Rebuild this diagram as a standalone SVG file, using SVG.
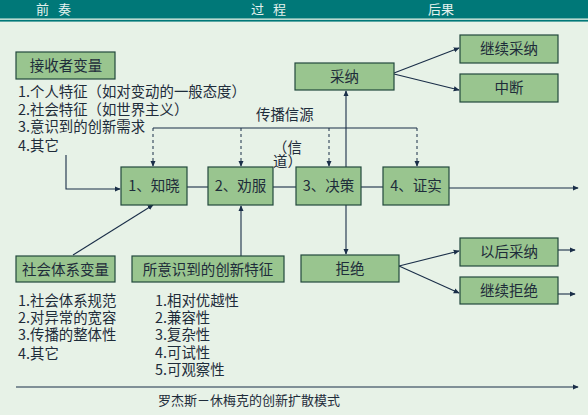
<svg xmlns="http://www.w3.org/2000/svg" width="588" height="415" viewBox="0 0 588 415">
<defs>
<marker id="ah" viewBox="0 0 8 8" refX="7" refY="4" markerWidth="6" markerHeight="6" orient="auto" markerUnits="userSpaceOnUse">
<path d="M0,0.5 L8,4 L0,7.5 z" fill="#1a2e48"/>
</marker>
<style>
.bx{fill:#99c58f;stroke:#22483c;stroke-width:1.2}
.bt{font-family:"Noto Sans CJK SC","Noto Sans",sans-serif;font-size:14.5px;fill:#1e2c3a;text-anchor:middle}
.tx{font-family:"Noto Sans CJK SC","Noto Sans",sans-serif;font-size:14.4px;fill:#1e2c3a}
.hd{font-family:"Noto Sans CJK SC","Noto Sans",sans-serif;font-size:13px;fill:#e4f2ee}
.ln{stroke:#1a2e48;stroke-width:1.1;fill:none}
.ds{stroke:#1a2e48;stroke-width:1;fill:none;stroke-dasharray:3,3}
</style>
</defs>
<rect x="0" y="0" width="588" height="415" fill="#e7f2e7"/>
<g id="header">
<rect x="0" y="0" width="588" height="18.5" fill="#007878"/>
<rect x="0" y="19.8" width="588" height="1.8" fill="#007878"/>
<text class="hd" x="36" y="14">前</text>
<text class="hd" x="58" y="14">奏</text>
<text class="hd" x="251" y="14">过</text>
<text class="hd" x="273" y="14">程</text>
<text class="hd" x="428" y="14">后果</text>
</g>
<g id="connectors">
<polyline class="ln" points="66,155 66,189 120,189" marker-end="url(#ah)"/>
<line class="ln" x1="187" y1="187" x2="208" y2="187"/>
<line class="ln" x1="273" y1="187" x2="296" y2="187"/>
<line class="ln" x1="361" y1="187" x2="383" y2="187"/>
<line class="ln" x1="449" y1="188" x2="578" y2="188" marker-end="url(#ah)"/>
<line class="ln" x1="153" y1="128" x2="417" y2="128"/>
<line class="ds" x1="153" y1="128" x2="153" y2="166" marker-end="url(#ah)"/>
<line class="ds" x1="241" y1="128" x2="241" y2="166" marker-end="url(#ah)"/>
<line class="ds" x1="329" y1="128" x2="329" y2="166" marker-end="url(#ah)"/>
<line class="ds" x1="417" y1="128" x2="417" y2="166" marker-end="url(#ah)"/>
<line class="ln" x1="346" y1="167" x2="346" y2="91" marker-end="url(#ah)"/>
<line class="ln" x1="346" y1="205" x2="346" y2="254" marker-end="url(#ah)"/>
<line class="ln" x1="394" y1="73" x2="459" y2="48" marker-end="url(#ah)"/>
<line class="ln" x1="394" y1="74" x2="459" y2="90" marker-end="url(#ah)"/>
<line class="ln" x1="399" y1="266" x2="459" y2="251" marker-end="url(#ah)"/>
<line class="ln" x1="399" y1="266" x2="459" y2="293" marker-end="url(#ah)"/>
<line class="ln" x1="558" y1="250" x2="575" y2="250" marker-end="url(#ah)"/>
<line class="ln" x1="558" y1="294" x2="575" y2="294" marker-end="url(#ah)"/>
<line class="ln" x1="73" y1="255" x2="153" y2="205" marker-end="url(#ah)"/>
<line class="ln" x1="241" y1="256" x2="241" y2="206" marker-end="url(#ah)"/>
<line class="ln" x1="16" y1="387" x2="578" y2="387" marker-end="url(#ah)"/>
</g>
<g id="receiver">
<rect class="bx" x="16" y="52" width="99" height="27"/>
<text class="bt" x="66" y="71">接收者变量</text>
</g>
<g id="receiver-list">
<text class="tx"><tspan x="18" y="97">1.个人特征（如对变动的一般态度）</tspan><tspan x="18" y="115">2.社会特征（如世界主义）</tspan><tspan x="18" y="132">3.意识到的创新需求</tspan><tspan x="18" y="151">4.其它</tspan></text>
</g>
<g id="source-label">
<text class="tx" x="256" y="120">传播信源</text>
<text class="tx"><tspan x="273" y="153">（信</tspan><tspan x="273" y="167">道）</tspan></text>
</g>
<g id="know">
<rect class="bx" x="121" y="167" width="66" height="38"/>
<text class="bt" x="154" y="191">1、知晓</text>
</g>
<g id="persuade">
<rect class="bx" x="208" y="167" width="65" height="38"/>
<text class="bt" x="240.5" y="191">2、劝服</text>
</g>
<g id="decide">
<rect class="bx" x="296" y="167" width="65" height="38"/>
<text class="bt" x="328.5" y="191">3、决策</text>
</g>
<g id="confirm">
<rect class="bx" x="383" y="167" width="66" height="38"/>
<text class="bt" x="416" y="191">4、证实</text>
</g>
<g id="adopt">
<rect class="bx" x="295" y="63" width="99" height="27"/>
<text class="bt" x="344.5" y="82">采纳</text>
</g>
<g id="continue-adopt">
<rect class="bx" x="460" y="35" width="98" height="28"/>
<text class="bt" x="509" y="54">继续采纳</text>
</g>
<g id="discontinue">
<rect class="bx" x="460" y="74" width="98" height="28"/>
<text class="bt" x="509" y="93">中断</text>
</g>
<g id="reject">
<rect class="bx" x="301" y="255" width="98" height="27"/>
<text class="bt" x="350" y="274">拒绝</text>
</g>
<g id="later-adopt">
<rect class="bx" x="460" y="238" width="98" height="28"/>
<text class="bt" x="509" y="257">以后采纳</text>
</g>
<g id="continue-reject">
<rect class="bx" x="460" y="277" width="98" height="27"/>
<text class="bt" x="509" y="296">继续拒绝</text>
</g>
<g id="social-system">
<rect class="bx" x="16" y="256" width="99" height="26"/>
<text class="bt" x="65.5" y="275">社会体系变量</text>
</g>
<g id="social-list">
<text class="tx"><tspan x="18" y="306">1.社会体系规范</tspan><tspan x="18" y="323">2.对异常的宽容</tspan><tspan x="18" y="340">3.传播的整体性</tspan><tspan x="18" y="359">4.其它</tspan></text>
</g>
<g id="innovation-features">
<rect class="bx" x="132" y="256" width="152" height="26"/>
<text class="bt" x="208" y="275">所意识到的创新特征</text>
</g>
<g id="features-list">
<text class="tx"><tspan x="155" y="306">1.相对优越性</tspan><tspan x="155" y="323">2.兼容性</tspan><tspan x="155" y="340">3.复杂性</tspan><tspan x="155" y="358">4.可试性</tspan><tspan x="155" y="375">5.可观察性</tspan></text>
</g>
<g id="caption">
<text class="tx" x="158" y="405" style="font-size:13px">罗杰斯－休梅克的创新扩散模式</text>
</g>
</svg>
